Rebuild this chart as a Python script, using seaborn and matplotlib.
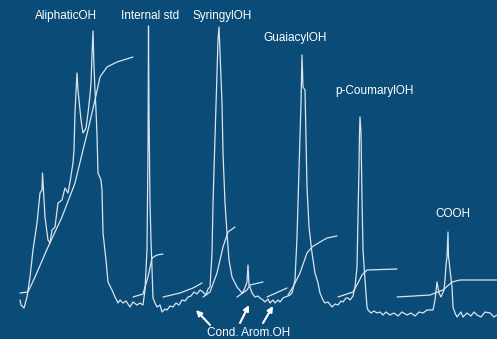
import matplotlib
matplotlib.use("Agg")
import matplotlib.pyplot as plt
import seaborn as sns
import pandas as pd

# ---- data ((shift position, screen height with 0 at top)) ----
spectrum_points = [
    (20,300),(21,305),(24,308),(27,297),(30,277),(33,250),(37,223),(40,193),(42,190),(42.5,173),
    (45,217),(48,240),(50,243),(52,230),(55,227),(58,203),(62,200),(65,188),(68,193),(70,182),
    (73,163),(74,150),(75,112),(76,92),(77,73),(78,90),(79,100),(81,120),(83,133),(85,130),
    (86,128),(88,113),(90,95),(91,83),(92,55),(93,31),(94,67),(95,90),(96,110),(97,135),
    (98,173),(101,180),(102,190),(103,233),(106,260),(108,282),(112,290),(115,297),(118,303),(120,300),
    (123,303),(126,301),(130,307),(133,302),(137,305),(140,303),(143,305),(145,290),(146,270),(147,250),
    (148,150),(148.5,26),(149,110),(150,203),(151,240),(152,270),(153,298),(155,303),(157,307),(160,305),
    (162,312),(165,309),(167,310),(170,306),(173,307),(176,303),(179,305),(182,300),(185,301),(188,297),
    (191,296),(194,292),(197,294),(200,290),(203,292),(206,295),(208,289),(210,287),(212,253),(213,203),
    (215,137),(217,70),(218,40),(219,27),(220,53),(222,103),(223,153),(225,203),(227,233),(229,260),
    (232,277),(237,287),(242,293),(244,290),(246,285),(247,282),(248,265),(249,285),(250,287),(252,293),
    (255,297),(258,296),(260,298),(263,300),(265,302),(268,299),(270,303),(273,300),(275,303),(278,300),
    (280,302),(283,298),(285,297),(288,296),(290,295),(292,293),(295,280),(297,237),(299,170),(301,103),
    (302,55),(303,87),(305,90),(306,137),(307,187),(309,227),(312,253),(315,273),(318,283),(320,293),
    (323,300),(325,303),(328,302),(332,307),(335,304),(338,305),(341,301),(343,302),(346,298),(348,298),
    (350,300),(353,296),(355,287),(357,267),(358,217),(359,167),(359.5,133),(360,117),(361,133),(362,200),
    (363,250),(365,280),(367,307),(368,310),(371,313),(374,311),(377,313),(380,312),(383,315),(386,312),
    (390,315),(394,313),(398,316),(402,312),(407,315),(411,313),(415,316),(419,312),(423,313),(427,310),
    (430,310),(433,310),(435,300),(437,282),(439,293),(441,297),(444,290),(445,280),(446,265),(447,257),
    (448,232),(448.5,257),(449,260),(450,270),(452,287),(453,307),(455,313),(457,317),(461,312),(463,317),
    (467,313),(471,316),(474,312),(477,315),(481,317),(485,312),(490,313),(494,317),(497,315),
]
spec_x = [p[0] for p in spectrum_points]
spec_y = [p[1] for p in spectrum_points]

int_aliphatic_x = [20,28,35,48,62,75,83,88,95,100,107,117,133]
int_aliphatic_y = [293,292,277,247,217,183,150,130,100,77,67,62,57]
int_internal_x = [133,143,148,152,157,163]
int_internal_y = [297,294,277,258,255,254]
int_cond1_x = [163,180,193,202]
int_cond1_y = [297,293,288,283]
int_syringyl_x = [203,210,217,223,228,235]
int_syringyl_y = [297,292,273,247,232,227]
int_cond2_x = [237,247,250,263]
int_cond2_y = [297,290,285,282]
int_cond3_x = [267,287]
int_cond3_y = [297,288]
int_guaiacyl_x = [288,293,300,307,312,320,327,337]
int_guaiacyl_y = [295,287,273,253,247,242,238,236]
int_coumaryl_x = [338,353,358,362,367,397]
int_coumaryl_y = [297,292,283,275,270,269]
int_cooh_x = [397,430,443,452,460,497]
int_cooh_y = [297,295,290,282,280,280]

labels = ["AliphaticOH", "Internal std", "SyringylOH", "GuaiacylOH", "p-CoumarylOH", "COOH"]
label_x = [66, 150, 222, 295, 374, 453]
label_y = [16, 16, 16, 38, 91, 214]

cond_label = "Cond. Arom.OH"
arrow_tail_x = [210, 240, 263]
arrow_tail_y = [325, 323, 323]
arrow_head_x = [196, 249, 273]
arrow_head_y = [310, 305, 306]

# ---- drawing ----
bg = "#0a4b78"
fg = "#dae4ee"
sns.set_theme(style="white")
plt.rcParams["font.family"] = ["Liberation Sans", "DejaVu Sans"]

fig = plt.figure(figsize=(4.97, 3.39), dpi=100, facecolor=bg)
ax = fig.add_axes([0, 0, 1, 1])
ax.set_facecolor(bg)

sns.lineplot(data=pd.DataFrame({"x": spec_x, "y": spec_y}), x="x", y="y",
             sort=False, estimator=None, color=fg, linewidth=0.9, ax=ax)

integrals = [
    (int_aliphatic_x, int_aliphatic_y), (int_internal_x, int_internal_y),
    (int_cond1_x, int_cond1_y), (int_syringyl_x, int_syringyl_y),
    (int_cond2_x, int_cond2_y), (int_cond3_x, int_cond3_y),
    (int_guaiacyl_x, int_guaiacyl_y), (int_coumaryl_x, int_coumaryl_y),
    (int_cooh_x, int_cooh_y),
]
for ix, iy in integrals:
    sns.lineplot(x=ix, y=iy, sort=False, estimator=None, color=fg, linewidth=0.9, ax=ax)

for t, lx, ly in zip(labels, label_x, label_y):
    ax.text(lx, ly, t, color="white", fontsize=8.5, ha="center", va="center")

ax.text(249, 333, cond_label, color="white", fontsize=8.5, ha="center", va="center")
for tx, ty, hx, hy in zip(arrow_tail_x, arrow_tail_y, arrow_head_x, arrow_head_y):
    ax.annotate("", xy=(hx, hy), xytext=(tx, ty),
                arrowprops=dict(arrowstyle="-|>", color="white", lw=1.5,
                                mutation_scale=8, shrinkA=0, shrinkB=0))

ax.set_xlim(0, 497)
ax.set_ylim(339, 0)
ax.set_xlabel("")
ax.set_ylabel("")
ax.set_xticks([])
ax.set_yticks([])
for s in ax.spines.values():
    s.set_visible(False)

fig.savefig("out.png", dpi=100, facecolor=bg)
